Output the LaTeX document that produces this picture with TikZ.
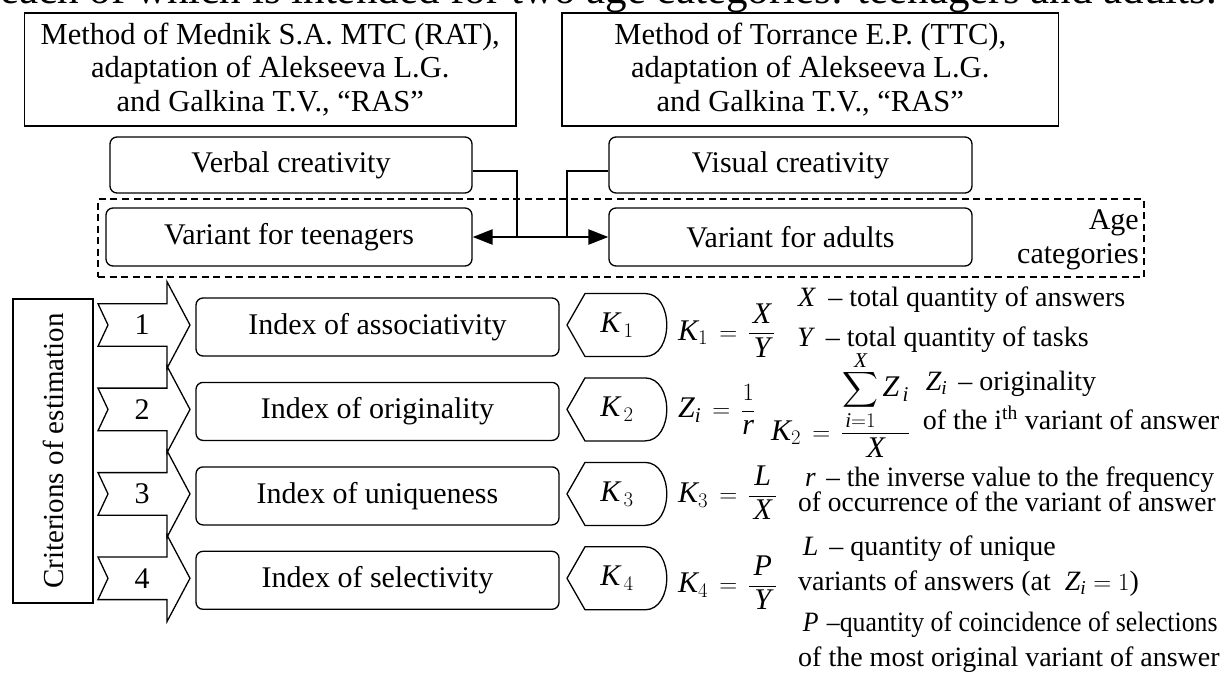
\documentclass[tikz,border=0pt]{standalone}
\usepackage{fontspec}
\setmainfont{Liberation Serif}
\usepackage{amsmath}
\usepackage{graphicx}
\usetikzlibrary{arrows.meta}
\begin{document}
\begin{tikzpicture}[x=1pt,y=-1pt,
  every node/.style={inner sep=0pt},
  txt/.style={font=\fontsize{30}{34}\selectfont},
  sqbox/.style={draw, line width=1.4pt, align=center, font=\fontsize{30.5}{33.5}\selectfont},
  rbox/.style={draw, rounded corners=7pt, line width=1.3pt, align=center, txt},
  desc/.style={anchor=base west, font=\fontsize{28}{32}\selectfont},
  formula/.style={anchor=base west, txt},
  conn/.style={line width=1.3pt},
  biarrow/.style={line width=2.4pt, {Triangle[length=20pt,width=15pt]}-{Triangle[length=20pt,width=15pt]}},
  shapeline/.style={line width=1.3pt},
  agebox/.style={draw, line width=1.3pt, dash pattern=on 7pt off 4.5pt},
]
\useasboundingbox (0,0) rectangle (1227,673);
\fill[white] (0,0) rectangle (1227,673);

\begin{scope}
  \clip (0,0) rectangle (1227,673);
  \node[anchor=base west, font=\fontsize{43}{48}\selectfont] (toptext) at (0,3) {each of which is intended for two age categories: teenagers and adults.};
\end{scope}

% method boxes
\node[sqbox, minimum width=491.5pt, minimum height=113pt] (m1) at (270.25,69.5)
  {Method of Mednik S.A. MTC (RAT),\\adaptation of Alekseeva L.G.\\and Galkina T.V., “RAS”};
\node[sqbox, minimum width=496.5pt, minimum height=113pt] (m2) at (810.25,69.5)
  {Method of Torrance E.P. (TTC),\\adaptation of Alekseeva L.G.\\and Galkina T.V., “RAS”};

% age categories frame
\node[agebox, minimum width=1046pt, minimum height=78pt] (age) at (621,238) {};
\node[anchor=east, align=right, font=\fontsize{30}{34}\selectfont] (agetext) at (1139,240) {Age\\categories};

% creativity and variant boxes
\node[rbox, minimum width=362pt, minimum height=56pt] (verbal) at (291,165) {Verbal creativity};
\node[rbox, minimum width=363pt, minimum height=56pt] (visual) at (790.5,165) {Visual creativity};
\node[rbox, minimum width=366pt, minimum height=58pt] (teen) at (289,237) {Variant for teenagers};
\node[rbox, minimum width=363pt, minimum height=58pt] (adult) at (790.5,237) {Variant for adults};

\coordinate (j1) at (517,237);
\coordinate (j2) at (567,237);
\draw[conn] ([yshift=-6pt]verbal.east) -| (j1);
\draw[conn] ([yshift=-6pt]visual.west) -| (j2);
\draw[biarrow] (teen.east) -- (adult.west);

% criterions
\node[sqbox, rotate=90, minimum width=304pt, minimum height=80pt, font=\fontsize{29}{32}\selectfont] (crit) at (53,451) {Criterions of estimation};

\foreach \i/\yc/\lab in {1/325/associativity,2/409.4/originality,3/493.9/uniqueness,4/578.3/selectivity}{
  \draw[shapeline, fill=white] (98,\yc-21.3) -- (167,\yc-21.3) -- (167,\yc-43.3) -- (190,\yc)
     -- (167,\yc+43.3) -- (167,\yc+21.3) -- (98,\yc+21.3) -- (108,\yc) -- cycle;
  \node[txt] (num\i) at (142,\yc) {\i};
  \node[rbox, minimum width=363pt, minimum height=58pt] (idx\i) at (377.5,\yc+2) {Index of \lab};
  \draw[shapeline] (567,\yc) -- (585,\yc-31.5) -- (645,\yc-31.5)
     .. controls (674,\yc-31.5) and (674,\yc+31.5) .. (645,\yc+31.5) -- (585,\yc+31.5) -- cycle;
  \node[txt] (k\i) at (617,\yc) {$\mathit{K}_{\,\i}$};
}

% formulas
\node[formula] (f1) at (678,340) {$\mathit{K}_{1}\,=\,\dfrac{\mathit{X}}{\,\mathit{Y}\,}$};
\node[formula] (f2) at (678,417.5) {$\mathit{Z}_{\mathit{i}}\,=\,\dfrac{1}{\mathit{r}}$};
\node[formula] (f3) at (771,440) {$\mathit{K}_{2}\,=\,\dfrac{\displaystyle\sum_{\mathit{i}=1}^{\raisebox{-6pt}{$\scriptstyle\mathit{X}$}}\mathit{Z}_{\,\mathit{i}}}{\mathit{X}}$};
\node[formula] (f4) at (678,502.5) {$\mathit{K}_{3}\,=\,\dfrac{\,\mathit{L}\,}{\,\mathit{X}\,}$};
\node[formula] (f5) at (678,592.5) {$\mathit{K}_{4}\,=\,\dfrac{\,\mathit{P}\,}{\,\mathit{Y}\,}$};

% descriptions
\node[desc] (d1) at (798,306.7) {$\mathit{X}$\hspace{13pt}– total quantity of answers};
\node[desc] (d2) at (797,346) {$\mathit{Y}$\hspace{13pt}– total quantity of tasks};
\node[desc] (d3) at (925.7,390) {$\mathit{Z}_{\mathit{i}}$\hspace{11pt}– originality};
\node[desc] (d4) at (922.7,429) {of the i\textsuperscript{th} variant of answer};
\node[desc] (d5) at (805,486.7) {\scalebox{0.97}[1]{$\mathit{r}$\hspace{11pt}– the inverse value to the frequency}};
\node[desc] (d6) at (798,511.7) {\scalebox{0.98}[1]{of occurrence of the variant of answer}};
\node[desc] (d7) at (802.7,555) {$\mathit{L}$\hspace{11pt}– quantity of unique};
\node[desc] (d8) at (798,590) {variants of answers (at \ $\mathit{Z}_{\mathit{i}}=1$)};
\node[desc] (d9) at (802.7,631.7) {\scalebox{0.92}[1]{$\mathit{P}$\hspace{9pt}–quantity of coincidence of selections}};
\node[desc] (d10) at (798,666.7) {of the most original variant of answer};
\end{tikzpicture}
\end{document}
